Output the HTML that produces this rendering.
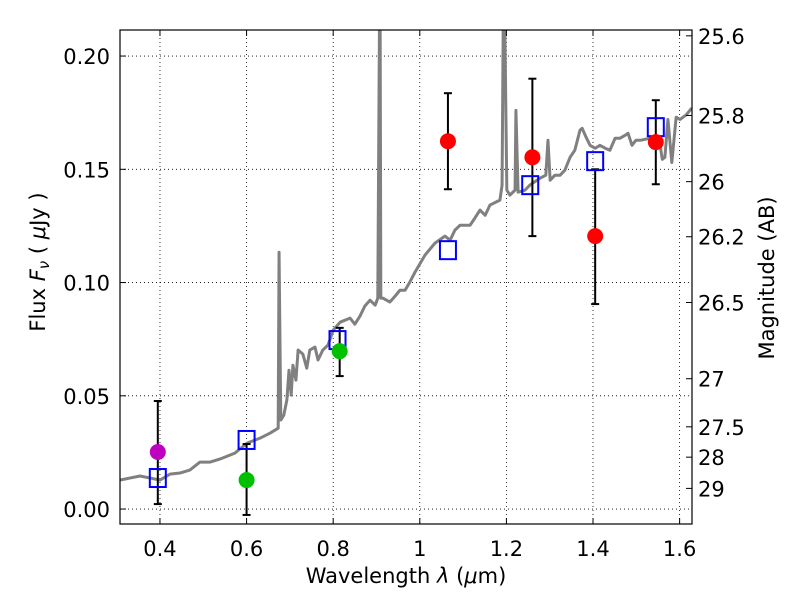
<!DOCTYPE html>
<html><head><meta charset="utf-8"><style>
body{margin:0;background:#fff}
svg{display:block;font-family:"DejaVu Sans","Liberation Sans",sans-serif}
</style></head><body>
<svg id="chart" width="800" height="600">
<defs><clipPath id="clip"><rect x="120" y="30" width="572" height="494"/></clipPath></defs>
<rect x="0" y="0" width="800" height="600" fill="#fff"/>
<g id="grid"></g>
<g id="series" clip-path="url(#clip)"></g>
<g id="axes"></g>
<text x="406" y="583" font-size="21" text-anchor="middle">Wavelength  <tspan font-style="italic">λ</tspan> (<tspan font-style="italic">μ</tspan>m)</text>
<text transform="translate(45,262) rotate(-90)" font-size="21" text-anchor="middle">Flux  <tspan font-style="italic">F<tspan font-size="15" dy="4">ν</tspan></tspan><tspan dy="-4">  ( </tspan><tspan font-style="italic">μ</tspan>Jy )</text>
<text transform="translate(774,278) rotate(-90)" font-size="21" text-anchor="middle">Magnitude (AB)</text>
</svg>
<script>
const specLam=[0.308,0.354,0.4,0.423,0.446,0.469,0.492,0.515,0.539,0.573,0.601,0.631,0.654,0.673,0.675,0.679,0.686,0.693,0.698,0.703,0.707,0.714,0.719,0.730,0.739,0.746,0.758,0.765,0.776,0.788,0.800,0.816,0.839,0.850,0.862,0.873,0.885,0.897,0.903,0.908,0.910,0.915,0.931,0.943,0.954,0.966,0.977,0.989,1.012,1.035,1.058,1.070,1.081,1.093,1.116,1.127,1.139,1.151,1.162,1.185,1.190,1.194,1.201,1.208,1.220,1.222,1.227,1.243,1.254,1.278,1.291,1.296,1.301,1.312,1.324,1.335,1.347,1.358,1.370,1.375,1.382,1.393,1.405,1.416,1.428,1.439,1.451,1.462,1.474,1.481,1.490,1.499,1.509,1.532,1.543,1.555,1.560,1.566,1.573,1.582,1.592,1.601,1.615,1.628];
const specFlux=[0.0128,0.0146,0.0128,0.0154,0.0159,0.0172,0.0207,0.0207,0.0221,0.0247,0.0291,0.0313,0.0335,0.0357,0.1134,0.0393,0.0415,0.0481,0.0613,0.0503,0.0635,0.0569,0.0702,0.0684,0.0622,0.0702,0.0715,0.0658,0.0702,0.0724,0.079,0.0825,0.0843,0.0816,0.0852,0.0896,0.0922,0.090,0.0931,0.25,0.0931,0.0931,0.0914,0.094,0.0966,0.0966,0.1002,0.1046,0.1121,0.1174,0.1205,0.1187,0.1231,0.1253,0.1253,0.1284,0.132,0.1297,0.1342,0.1364,0.143,0.25,0.1408,0.1386,0.1408,0.176,0.1399,0.1408,0.143,0.1461,0.1474,0.1628,0.1452,0.1474,0.1474,0.1496,0.1553,0.1584,0.1673,0.1681,0.165,0.1606,0.1593,0.1606,0.1593,0.1584,0.1637,0.1637,0.165,0.1659,0.1606,0.1628,0.1628,0.1637,0.1606,0.1606,0.1544,0.1553,0.1720,0.1530,0.1730,0.1720,0.1740,0.177];
const ptLam=[0.395,0.60,0.815,1.065,1.26,1.405,1.545];
const ptFlux=[0.0252,0.0128,0.0697,0.1624,0.1553,0.1205,0.162];
const ptHi=[0.0477,0.0287,0.080,0.1836,0.190,0.150,0.1805];
const ptLo=[0.0022,-0.0026,0.0587,0.1412,0.1205,0.0905,0.1434];
const ptColor=['#bf00bf','#00c000','#00c000','#ff0000','#ff0000','#ff0000','#ff0000'];
const sqLam=[0.395,0.60,0.81,1.065,1.255,1.405,1.545];
const sqFlux=[0.0137,0.0305,0.0746,0.1143,0.143,0.1536,0.1686];
const xTicks=[0.4,0.6,0.8,1.0,1.2,1.4,1.6];
const xTickLabels=['0.4','0.6','0.8','1','1.2','1.4','1.6'];
const yTicks=[0,0.05,0.10,0.15,0.20];
const yTickLabels=['0.00','0.05','0.10','0.15','0.20'];
const magTicks=[25.6,25.8,26,26.2,26.5,27,27.5,28,29];
const magLabels=['25.6','25.8','26','26.2','26.5','27','27.5','28','29'];

const L=120,R=692,T=30,B=524;
const xMin=0.3077,xMax=1.6286,yMin=-0.0066,yMax=0.2115;
const X=v=>L+(v-xMin)/(xMax-xMin)*(R-L);
const Y=v=>B-(v-yMin)/(yMax-yMin)*(B-T);
const NS='http://www.w3.org/2000/svg';
function mk(tag,attrs,parent){const e=document.createElementNS(NS,tag);for(const k in attrs)e.setAttribute(k,attrs[k]);parent.appendChild(e);return e;}
const grid=document.getElementById('grid'),ser=document.getElementById('series'),ax=document.getElementById('axes');

xTicks.forEach((t,i)=>{
  const g=mk('line',{x1:X(t),x2:X(t),y1:T,y2:B,stroke:'#000','stroke-width':0.8,'stroke-dasharray':'1,3'},grid);
  
  
  const a=mk('line',{x1:X(t),x2:X(t),y1:B,y2:B-6,stroke:'#000','stroke-width':1},ax);
  
  
  mk('line',{x1:X(t),x2:X(t),y1:T,y2:T+6,stroke:'#000','stroke-width':1},ax);
  const lb=mk('text',{x:X(t),y:556,'font-size':21,'text-anchor':'middle'},ax);
  lb.textContent=xTickLabels[i];
  
  
});
yTicks.forEach((t,i)=>{
  const g=mk('line',{x1:L,x2:R,y1:Y(t),y2:Y(t),stroke:'#000','stroke-width':0.8,'stroke-dasharray':'1,3'},grid);
  
  
  const a=mk('line',{x1:L,x2:L+6,y1:Y(t),y2:Y(t),stroke:'#000','stroke-width':1},ax);
  
  
  const lb=mk('text',{x:110,y:Y(t)+8,'font-size':21,'text-anchor':'end'},ax);
  lb.textContent=yTickLabels[i];
  
  
});
magTicks.forEach((m,i)=>{
  const f=Math.pow(10,(23.9-m)/2.5);
  const a=mk('line',{x1:R-6,x2:R,y1:Y(f),y2:Y(f),stroke:'#000','stroke-width':1},ax);
  
  
  const lb=mk('text',{x:698,y:Y(f)+8,'font-size':21},ax);
  lb.textContent=magLabels[i];
  
  
});

const sp=mk('polyline',{points:specLam.map((l,i)=>X(l)+','+Y(specFlux[i])).join(' '),fill:'none',stroke:'#808080','stroke-width':3,'stroke-linejoin':'round'},ser);



ptLam.forEach((l,i)=>{
  const x=X(l);
  const e=mk('g',{},ser);
  
  
  mk('line',{x1:x,x2:x,y1:Y(ptHi[i]),y2:Y(ptLo[i]),stroke:'#000','stroke-width':2},e);
  mk('line',{x1:x-4,x2:x+4,y1:Y(ptHi[i]),y2:Y(ptHi[i]),stroke:'#000','stroke-width':2},e);
  mk('line',{x1:x-4,x2:x+4,y1:Y(ptLo[i]),y2:Y(ptLo[i]),stroke:'#000','stroke-width':2},e);
});
sqLam.forEach((l,i)=>{
  const s=mk('rect',{x:X(l)-8,y:Y(sqFlux[i])-9,width:16,height:18,fill:'none',stroke:'#0000ff','stroke-width':2},ser);
  
  
});
ptLam.forEach((l,i)=>{
  const c=mk('circle',{cx:X(l),cy:Y(ptFlux[i]),r:8,fill:ptColor[i]},ser);
  
  
});
const fr=mk('rect',{x:L,y:T,width:R-L,height:B-T,fill:'none',stroke:'#000','stroke-width':1.2},ax);


</script>
</body></html>
